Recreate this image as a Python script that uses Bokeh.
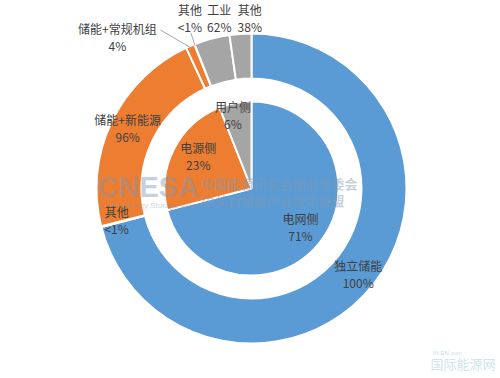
import math
from bokeh.plotting import figure
from bokeh.models import Range1d
from bokeh.core.properties import value
from bokeh.embed import file_html
from bokeh.resources import INLINE

# ---------------- data ----------------
inner_names = ["电网侧", "电源侧", "用户侧"]
inner_values = [71, 23, 6]
inner_text = ["71%", "23%", "6%"]

outer_parent = [0, 1, 1, 1, 2, 2, 2]
outer_names = ["独立储能", "其他", "储能+新能源", "储能+常规机组", "其他", "工业", "其他"]
outer_share = [100, 0.4, 95.6, 4.0, 0.4, 61.8, 37.8]  # percent of parent
outer_text = ["100%", "<1%", "96%", "4%", "<1%", "62%", "38%"]

colors = ["#5B9BD5", "#ED7D31", "#A5A5A5"]

# ---------------- layout ----------------
W, H = 500, 378
CX, CY = 251, H - 188
R_IN = 87
R1, R2 = 110, 155
FONT = value("Noto Sans CJK SC")
TXT = "#404040"

p = figure(width=W, height=H, output_backend="svg", toolbar_location=None,
           x_range=Range1d(0, W), y_range=Range1d(0, H),
           x_axis_location=None, y_axis_location=None, min_border=0)
p.grid.visible = False
p.outline_line_color = None
p.background_fill_color = "white"


def bang(frac):
    return math.pi / 2 - 2 * math.pi * frac


def pt(frac, r):
    a = bang(frac)
    return CX + r * math.cos(a), CY + r * math.sin(a)


# inner pie
tot = sum(inner_values)
cum = 0.0
inner_mid = []
inner_span = []
for i, v in enumerate(inner_values):
    s, e = cum / tot, (cum + v) / tot
    inner_span.append((s, e))
    p.wedge(x=CX, y=CY, radius=R_IN, start_angle=bang(s), end_angle=bang(e),
            direction="clock", fill_color=colors[i], line_color="white", line_width=2)
    inner_mid.append((s + e) / 2)
    cum += v

# outer ring
outer_mid = []
sub_cum = [0.0, 0.0, 0.0]
for j, sh in enumerate(outer_share):
    pi_ = outer_parent[j]
    ps, pe = inner_span[pi_]
    width = pe - ps
    tot_sh = sum(outer_share[k] for k in range(len(outer_share)) if outer_parent[k] == pi_)
    s = ps + width * sub_cum[pi_] / tot_sh
    e = ps + width * (sub_cum[pi_] + sh) / tot_sh
    sub_cum[pi_] += sh
    p.annular_wedge(x=CX, y=CY, inner_radius=R1, outer_radius=R2,
                    start_angle=bang(s), end_angle=bang(e), direction="clock",
                    fill_color=colors[pi_], line_color="white", line_width=2)
    outer_mid.append((s + e) / 2)

# watermark
p.text(x=[97], y=[H - 186], text=["CNESA"], text_font=value("Liberation Sans"),
       text_font_size="29px", text_font_style="bold", text_color="#7f98b3",
       text_alpha=0.45, text_baseline="middle")
p.text(x=[99], y=[H - 205], text=["China Energy Storage Alliance"], text_font=value("Liberation Sans"),
       text_font_size="8px", text_color="#7f98b3", text_alpha=0.45, text_baseline="middle")
p.text(x=[201, 201], y=[H - 183, H - 200], text=["中国能源研究会储能专委会", "中关村储能产业技术联盟"],
       text_font=FONT, text_font_size="13px", text_font_style="bold", text_color="#7f98b3",
       text_alpha=0.45, text_baseline="middle")
p.text(x=[432], y=[H - 352], text=["IN-EN.com"], text_font=value("Liberation Sans"),
       text_font_size="6px", text_color="#5aa0d8", text_alpha=0.4, text_baseline="middle")
p.text(x=[430], y=[H - 363], text=["国际能源网"], text_font=FONT,
       text_font_size="13px", text_color="#4f9ad6", text_alpha=0.3, text_baseline="middle")


def label(x, y, name, pct):
    p.text(x=[x, x], y=[y + 8.5, y - 8.5], text=[name, pct], text_font=FONT,
           text_font_size="12px", text_color=TXT, text_align="center", text_baseline="middle")


# inner labels (radius, nudge in screen pixels: +dy = down)
inner_lab = [(62, 0, 0), (62, 2, -4), (62, -7, -13)]
for i in range(3):
    r, dx, dy = inner_lab[i]
    x, y = pt(inner_mid[i], r)
    label(x + dx, y - dy, inner_names[i], inner_text[i])

# outer labels (radius, nudge in screen pixels: +dy = down)
outer_lab = [(135, 0, 3), (135, -4, -2), (135, -2, -2), (165, -69, 0),
             (165, -1, -17), (165, 10, -11), (165, 10, -6)]
leader = [False, False, False, True, True, False, False]
for j in range(len(outer_names)):
    r, dx, dy = outer_lab[j]
    x, y = pt(outer_mid[j], r)
    lx, ly = x + dx, y - dy
    label(lx, ly, outer_names[j], outer_text[j])
    if leader[j]:
        ex, ey = pt(outer_mid[j], R2 - 2)
        if j == 3:
            sx, sy = lx + 43, ly + 7
        else:
            sx, sy = lx + 1, ly - 15
        p.line(x=[sx, ex], y=[sy, ey], line_color="#a6a6a6", line_width=1)

open("out.html", "w").write(file_html(p, INLINE))
